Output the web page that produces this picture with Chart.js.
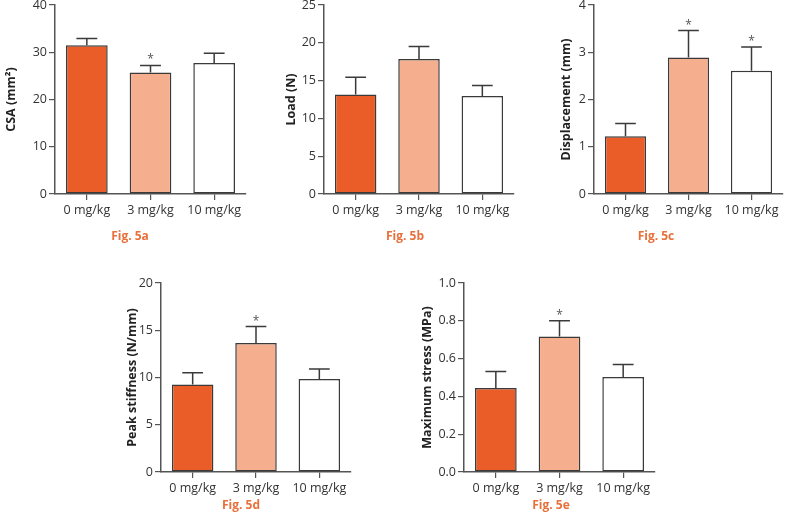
<!DOCTYPE html>
<html><head><meta charset="utf-8">
<script src="https://cdn.jsdelivr.net/npm/chart.js@4.4.1/dist/chart.umd.min.js"></script>
<style>
body{margin:0;background:#fff;width:785px;height:514px;position:relative;overflow:hidden;font-family:'Open Sans',sans-serif}
canvas{position:absolute}
.fig{position:absolute;color:#E8703A;font:bold 12px 'Open Sans',sans-serif;transform:translate(-50%,-50%);white-space:nowrap}
.probe{position:absolute;left:-999px;top:-999px;font:12px 'Open Sans'}
.probe b{font-weight:bold}
</style>
</head><body>
<div class="probe">0 mg/kg <b>Load</b></div>
<script>
// ---- data ----
const categories = ['0 mg/kg', '3 mg/kg', '10 mg/kg'];

const csaMean = [31.5, 25.7, 27.7];
const csaSem = [1.4, 1.5, 2.1];
const csaStars = [false, true, false];

const loadMean = [13.15, 17.85, 12.95];
const loadSem = [2.3, 1.65, 1.4];
const loadStars = [false, false, false];

const dispMean = [1.22, 2.89, 2.61];
const dispSem = [0.27, 0.57, 0.5];
const dispStars = [false, true, true];

const stiffMean = [9.26, 13.66, 9.83];
const stiffSem = [1.24, 1.73, 1.08];
const stiffStars = [false, true, false];

const stressMean = [0.444, 0.717, 0.503];
const stressSem = [0.088, 0.083, 0.066];
const stressStars = [false, true, false];

const yAxisTitles = ['CSA (mm\u00B2)', 'Load (N)', 'Displacement (mm)', 'Peak stiffness (N/mm)', 'Maximum stress (MPa)'];
const yMax = [40, 25, 4, 20, 1.0];
const yStep = [10, 5, 1, 5, 0.2];
const yDecimals = [0, 0, 0, 0, 1];
const figLabels = ['Fig. 5a', 'Fig. 5b', 'Fig. 5c', 'Fig. 5d', 'Fig. 5e'];

// ---- styling / layout ----
const barColors = ['#EA5D28', '#F5AF8E', '#FFFFFF'];
const layouts = [
  {L:0,   T:0,   W:250, H:230, axisX:55,  plotTop:5,   plotBottom:194, plotRight:246, titleX:11,    figX:130, figY:235},
  {L:268, T:0,   W:252, H:230, axisX:324, plotTop:5,   plotBottom:194, plotRight:514, titleX:291,   figX:405, figY:235},
  {L:538, T:0,   W:247, H:230, axisX:594, plotTop:5,   plotBottom:194, plotRight:783, titleX:566.5, figX:656, figY:235},
  {L:110, T:270, W:250, H:230, axisX:161, plotTop:283, plotBottom:472, plotRight:351, titleX:132.5,figX:241, figY:504},
  {L:410, T:270, W:250, H:230, axisX:464, plotTop:283, plotBottom:472, plotRight:655, titleX:427.5,figX:551, figY:504}
];
const means = [csaMean, loadMean, dispMean, stiffMean, stressMean];
const sems = [csaSem, loadSem, dispSem, stiffSem, stressSem];
const stars = [csaStars, loadStars, dispStars, stiffStars, stressStars];

const FONT = 'Open Sans';
const TICK_SIZE = 12.5;
const TITLE_SIZE = 12.5;

const errorBarPlugin = {
  id: 'errbars',
  afterDatasetsDraw(chart) {
    const {ctx, scales: {y}} = chart;
    const meta = chart.getDatasetMeta(0);
    const sem = chart.options.plugins.errbars.sem;
    const st = chart.options.plugins.errbars.stars;
    const vals = chart.data.datasets[0].data;
    ctx.save();
    ctx.strokeStyle = '#3a3a3a';
    ctx.lineWidth = 1.5;
    meta.data.forEach((bar, i) => {
      const yTop = y.getPixelForValue(vals[i] + sem[i]);
      const half = bar.width * 0.25;
      ctx.beginPath();
      ctx.moveTo(bar.x, bar.y);
      ctx.lineTo(bar.x, yTop);
      ctx.moveTo(bar.x - half, yTop);
      ctx.lineTo(bar.x + half, yTop);
      ctx.stroke();
      if (st[i]) {
        ctx.fillStyle = '#555';
        ctx.font = '12px "' + FONT + '"';
        ctx.textAlign = 'center';
        ctx.textBaseline = 'alphabetic';
        ctx.fillText('*', bar.x, yTop - 2);
      }
    });
    ctx.restore();
  }
};

function build() {
  layouts.forEach((lay, k) => {
    const cv = document.createElement('canvas');
    cv.width = lay.W; cv.height = lay.H;
    cv.style.left = lay.L + 'px'; cv.style.top = lay.T + 'px';
    cv.style.width = lay.W + 'px'; cv.style.height = lay.H + 'px';
    document.body.appendChild(cv);

    const fig = document.createElement('div');
    fig.className = 'fig';
    fig.textContent = figLabels[k];
    fig.style.left = lay.figX + 'px'; fig.style.top = lay.figY + 'px';
    document.body.appendChild(fig);

    const yW = lay.axisX - lay.L;
    const xH = lay.T + lay.H - lay.plotBottom;
    new Chart(cv, {
      type: 'bar',
      data: {
        labels: categories,
        datasets: [{
          data: means[k],
          backgroundColor: barColors,
          borderColor: '#3a3a3a',
          borderWidth: 1.5,
          borderSkipped: false,
          categoryPercentage: 1,
          barPercentage: 0.655
        }]
      },
      options: {
        responsive: false,
        animation: false,
        devicePixelRatio: 1,
        layout: {padding: {top: lay.plotTop - lay.T, right: lay.L + lay.W - lay.plotRight, left: 0, bottom: 0}},
        plugins: {
          legend: {display: false},
          tooltip: {enabled: false},
          errbars: {sem: sems[k], stars: stars[k]}
        },
        scales: {
          x: {
            grid: {display: true, drawOnChartArea: false, drawTicks: true, tickLength: 6, offset: false, color: '#555', lineWidth: 1.2},
            border: {display: true, color: '#555', width: 1.5},
            ticks: {color: '#333', font: {family: FONT, size: TICK_SIZE}, padding: 3, maxRotation: 0, autoSkip: false},
            afterFit(s) { s.height = xH; s.paddingLeft = 0; s.paddingRight = 0; }
          },
          y: {
            min: 0, max: yMax[k],
            ticks: {stepSize: yStep[k], color: '#333', font: {family: FONT, size: TICK_SIZE}, padding: 2,
                    callback: v => Number(v).toFixed(yDecimals[k])},
            grid: {display: true, drawOnChartArea: false, drawTicks: true, tickLength: 6, color: '#555', lineWidth: 1.2},
            border: {display: true, color: '#555', width: 1.5},
            title: {display: true, text: yAxisTitles[k], color: '#222', font: {family: FONT, size: TITLE_SIZE, weight: 'bold'},
                    padding: {top: lay.titleX - lay.L - TITLE_SIZE * 0.6, bottom: 0}},
            afterFit(s) { s.width = yW; s.paddingTop = 0; s.paddingBottom = 0; }
          }
        }
      },
      plugins: [errorBarPlugin]
    });
  });
}

const fontsReady = (document.fonts && document.fonts.load)
  ? Promise.all([document.fonts.load('12px "Open Sans"'), document.fonts.load('bold 12px "Open Sans"')]).catch(() => {})
  : Promise.resolve();
fontsReady.then(build, build);
</script>
</body></html>
